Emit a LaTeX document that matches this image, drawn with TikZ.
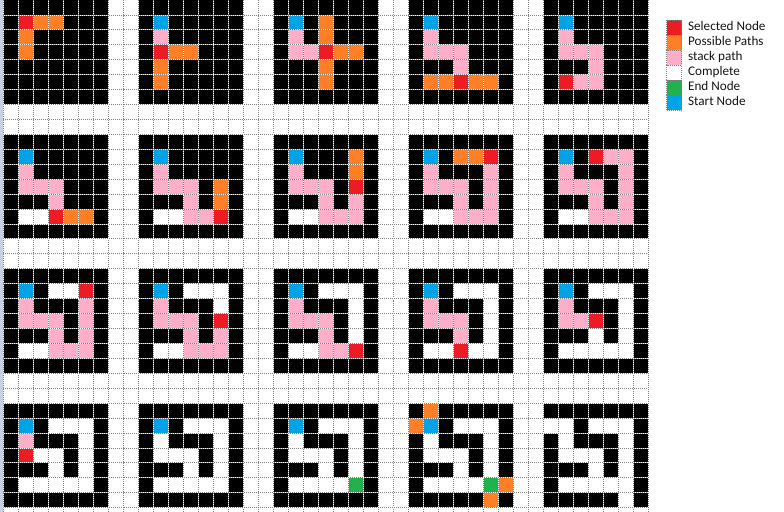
\documentclass[tikz,border=0pt]{standalone}
\usepackage{fontspec}
\setmainfont{Carlito}
\usetikzlibrary{positioning}
\definecolor{mzK}{HTML}{000000}
\definecolor{mzW}{HTML}{FFFFFF}
\definecolor{mzR}{HTML}{ED1C24}
\definecolor{mzO}{HTML}{FF7F27}
\definecolor{mzP}{HTML}{FFAEC9}
\definecolor{mzG}{HTML}{22B14C}
\definecolor{mzB}{HTML}{00A2E8}
\definecolor{sheetedge}{HTML}{C8D1E1}
\definecolor{legendink}{HTML}{141418}

\begin{document}
\begin{tikzpicture}[x=0.5cm, y=-0.4977cm,
  gridwhite/.style={white, line width=0.8pt, dash pattern=on 0.95pt off 0.95pt, dash phase=0.95pt},
  gridgray/.style={gray, line width=0.8pt, dash pattern=on 0.95pt off 0.95pt},
  legbox/.style={draw=gray, line width=0.8pt, dash pattern=on 0.95pt off 0.95pt, minimum width=0.5cm, minimum height=0.49cm, inner sep=0pt},
  legtext/.style={text=legendink, font=\fontsize{12.5}{15}\selectfont, inner sep=0pt, text height=0.64em, text depth=0pt}]
\useasboundingbox (-0.22,0) rectangle (52.047,34.29);
\fill[sheetedge] (-0.22,0) rectangle (0,34.29);
% one 7x7 maze per search step, row by row
\foreach \bx/\by/\cells in {
  0/0/{K,K,K,K,K,K,K, K,R,O,O,K,K,K, K,O,K,K,K,K,K, K,O,K,K,K,K,K, K,K,K,K,K,K,K, K,K,K,K,K,K,K, K,K,K,K,K,K,K},
  1/0/{K,K,K,K,K,K,K, K,B,K,K,K,K,K, K,P,K,K,K,K,K, K,R,O,O,K,K,K, K,O,K,K,K,K,K, K,O,K,K,K,K,K, K,K,K,K,K,K,K},
  2/0/{K,K,K,K,K,K,K, K,B,K,O,K,K,K, K,P,K,O,K,K,K, K,P,P,R,O,O,K, K,K,K,O,K,K,K, K,K,K,O,K,K,K, K,K,K,K,K,K,K},
  3/0/{K,K,K,K,K,K,K, K,B,K,K,K,K,K, K,P,K,K,K,K,K, K,P,P,P,K,K,K, K,K,K,P,K,K,K, K,O,O,R,O,O,K, K,K,K,K,K,K,K},
  4/0/{K,K,K,K,K,K,K, K,B,K,K,K,K,K, K,P,K,K,K,K,K, K,P,P,P,K,K,K, K,K,K,P,K,K,K, K,R,P,P,K,K,K, K,K,K,K,K,K,K},
  0/1/{K,K,K,K,K,K,K, K,B,K,K,K,K,K, K,P,K,K,K,K,K, K,P,P,P,K,K,K, K,K,K,P,K,K,K, K,W,W,R,O,O,K, K,K,K,K,K,K,K},
  1/1/{K,K,K,K,K,K,K, K,B,K,K,K,K,K, K,P,K,K,K,K,K, K,P,P,P,K,O,K, K,K,K,P,K,O,K, K,W,W,P,P,R,K, K,K,K,K,K,K,K},
  2/1/{K,K,K,K,K,K,K, K,B,K,K,K,O,K, K,P,K,K,K,O,K, K,P,P,P,K,R,K, K,K,K,P,K,P,K, K,W,W,P,P,P,K, K,K,K,K,K,K,K},
  3/1/{K,K,K,K,K,K,K, K,B,K,O,O,R,K, K,P,K,K,K,P,K, K,P,P,P,K,P,K, K,K,K,P,K,P,K, K,W,W,P,P,P,K, K,K,K,K,K,K,K},
  4/1/{K,K,K,K,K,K,K, K,B,K,R,P,P,K, K,P,K,K,K,P,K, K,P,P,P,K,P,K, K,K,K,P,K,P,K, K,W,W,P,P,P,K, K,K,K,K,K,K,K},
  0/2/{K,K,K,K,K,K,K, K,B,K,W,W,R,K, K,P,K,K,K,P,K, K,P,P,P,K,P,K, K,K,K,P,K,P,K, K,W,W,P,P,P,K, K,K,K,K,K,K,K},
  1/2/{K,K,K,K,K,K,K, K,B,K,W,W,W,K, K,P,K,K,K,W,K, K,P,P,P,K,R,K, K,K,K,P,K,P,K, K,W,W,P,P,P,K, K,K,K,K,K,K,K},
  2/2/{K,K,K,K,K,K,K, K,B,K,W,W,W,K, K,P,K,K,K,W,K, K,P,P,P,K,W,K, K,K,K,P,K,W,K, K,W,W,P,P,R,K, K,K,K,K,K,K,K},
  3/2/{K,K,K,K,K,K,K, K,B,K,W,W,W,K, K,P,K,K,K,W,K, K,P,P,P,K,W,K, K,K,K,P,K,W,K, K,W,W,R,W,W,K, K,K,K,K,K,K,K},
  4/2/{K,K,K,K,K,K,K, K,B,K,W,W,W,K, K,P,K,K,K,W,K, K,P,P,R,K,W,K, K,K,K,W,K,W,K, K,W,W,W,W,W,K, K,K,K,K,K,K,K},
  0/3/{K,K,K,K,K,K,K, K,B,K,W,W,W,K, K,P,K,K,K,W,K, K,R,W,W,K,W,K, K,K,K,W,K,W,K, K,W,W,W,W,W,K, K,K,K,K,K,K,K},
  1/3/{K,K,K,K,K,K,K, K,B,K,W,W,W,K, K,W,K,K,K,W,K, K,W,W,W,K,W,K, K,K,K,W,K,W,K, K,W,W,W,W,W,K, K,K,K,K,K,K,K},
  2/3/{K,K,K,K,K,K,K, K,B,K,W,W,W,K, K,W,K,K,K,W,K, K,W,W,W,K,W,K, K,K,K,W,K,W,K, K,W,W,W,W,G,K, K,K,K,K,K,K,K},
  3/3/{K,O,K,K,K,K,K, O,B,K,W,W,W,K, K,W,K,K,K,W,K, K,W,W,W,K,W,K, K,K,K,W,K,W,K, K,W,W,W,W,G,O, K,K,K,K,K,O,K},
  4/3/{K,K,K,K,K,K,K, W,W,K,W,W,W,K, K,W,K,K,K,W,K, K,W,W,W,K,W,K, K,K,K,W,K,W,K, K,W,W,W,W,W,K, K,K,K,K,K,W,K}}{
  \foreach \cl [count=\i from 0] in \cells {
    \pgfmathtruncatemacro{\rowno}{\i/7}
    \pgfmathtruncatemacro{\colno}{mod(\i,7)}
    \fill[mz\cl] (9*\bx+\colno, 9*\by+\rowno) rectangle +(1,1);
  }
}
% sheet grid
\foreach \x in {0,...,43} {
  \draw[gridwhite] (\x,0) -- (\x,34.29);
  \draw[gridgray] (\x,0) -- (\x,34.29);
}
\foreach \y in {1,...,34} {
  \draw[gridwhite] (0,\y) -- (43,\y);
  \draw[gridgray] (0,\y) -- (43,\y);
}
% legend
\foreach \n/\fillcol/\txt in {0/mzR/Selected Node, 1/mzO/Possible Paths, 2/mzP/stack path, 3/white/Complete, 4/mzG/End Node, 5/mzB/Start Node} {
  \node[legbox, fill=\fillcol] (key\n) at (44.73, 1.862+1.003*\n) {};
  \node[legtext, right=1.9mm of key\n, yshift=0.5pt] (label\n) {\txt};
}
\end{tikzpicture}
\end{document}
